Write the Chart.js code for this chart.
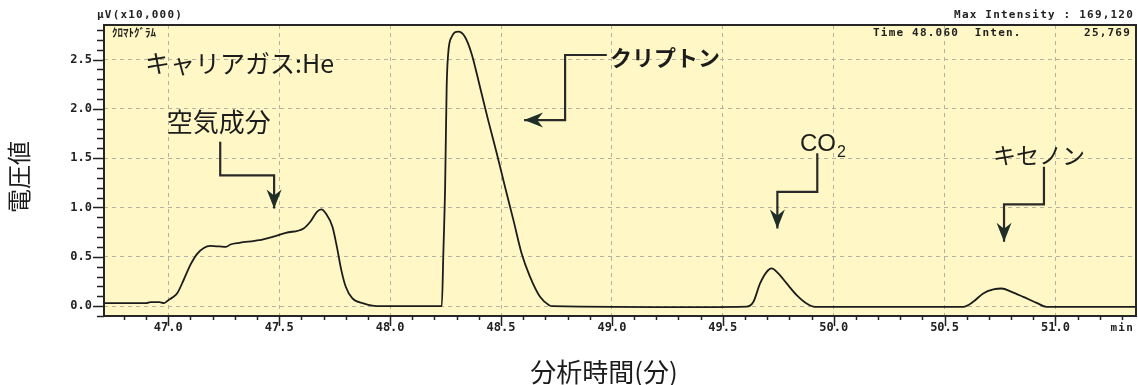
<!DOCTYPE html>
<html>
<head>
<meta charset="utf-8">
<script src="https://cdn.jsdelivr.net/npm/chart.js@4"></script>
<style>
  html, body { margin: 0; padding: 0; background: #fff; }
</style>
</head>
<body>
<canvas id="chromatogram" width="1138" height="385"></canvas>
<script>
// ---- data (time in min, signal in µV x10,000) ----
const timeMin = [
  46.71, 46.90, 46.92, 46.96, 46.98, 47.00, 47.02, 47.04, 47.07, 47.10,
  47.13, 47.16, 47.19, 47.23, 47.26, 47.28, 47.32, 47.41, 47.47, 47.53,
  47.61, 47.64, 47.67, 47.69, 47.71, 47.74, 47.76, 47.78, 47.80, 47.83,
  47.88, 47.94, 48.230, 48.233, 48.240, 48.248, 48.255, 48.262, 48.278, 48.307,
  48.337, 48.367, 48.405, 48.442, 48.481, 48.518, 48.556, 48.593, 48.631, 48.676,
  48.717, 48.732, 49.40, 49.608, 49.638, 49.668, 49.698, 49.720, 49.750, 49.788,
  49.833, 49.878, 49.916, 50.584, 50.629, 50.674, 50.720, 50.757, 50.802, 50.855,
  50.915, 50.960, 51.363
];
const signal = [
  0.03, 0.03, 0.04, 0.04, 0.03, 0.06, 0.09, 0.13, 0.27, 0.42,
  0.53, 0.59, 0.61, 0.605, 0.60, 0.625, 0.642, 0.669, 0.703, 0.743,
  0.788, 0.855, 0.956, 0.981, 0.940, 0.804, 0.601, 0.365, 0.196, 0.078,
  0.027, 0.0, 0.0, 0.0, 0.534, 1.21, 2.224, 2.562, 2.731, 2.782,
  2.731, 2.562, 2.224, 1.886, 1.548, 1.21, 0.872, 0.534, 0.297, 0.095,
  0.01, 0.0, -0.01, -0.005, 0.044, 0.23, 0.348, 0.382, 0.332, 0.23,
  0.112, 0.027, -0.007, -0.007, 0.044, 0.129, 0.169, 0.179, 0.145, 0.094,
  0.033, -0.007, -0.007
];
const xMajorTicks = [47.0, 47.5, 48.0, 48.5, 49.0, 49.5, 50.0, 50.5, 51.0];
const yMajorTicks = [0.0, 0.5, 1.0, 1.5, 2.0, 2.5];

const MONO = '"DejaVu Sans Mono", monospace';
const JP   = '"Noto Sans CJK JP", sans-serif';
const INK  = '#1c1c1c';

// peak annotations, anchored in data units (min, value)
const notes = [
  { text: "キャリアガス:He", t: 46.895, v: 2.46,  font: `25px ${JP}` },
  { text: "空気成分",        t: 46.993, v: 1.87,  font: `26px ${JP}` },
  { text: "クリプトン",      t: 48.991, v: 2.52,  font: `bold 22px ${JP}` },
  { text: "キセノン",        t: 50.718, v: 1.53,  font: `23px ${JP}` },
];
const arrows = [
  [[47.234, 1.666], [47.234, 1.326], [47.477, 1.326], [47.477, 0.991]],
  [[48.977, 2.546], [48.789, 2.546], [48.789, 1.886], [48.604, 1.886]],
  [[49.926, 1.549], [49.926, 1.159], [49.746, 1.159], [49.746, 0.788]],
  [[50.948, 1.413], [50.948, 1.031], [50.768, 1.031], [50.768, 0.652]],
];

function drawArrow(ctx, pts) {
  ctx.strokeStyle = "#2a2a2a";
  ctx.lineWidth = 2.2;
  ctx.beginPath();
  ctx.moveTo(pts[0][0], pts[0][1]);
  for (let i = 1; i < pts.length; i++) ctx.lineTo(pts[i][0], pts[i][1]);
  ctx.stroke();
  const [tx, ty] = pts[pts.length - 1];
  const [px, py] = pts[pts.length - 2];
  ctx.save();
  ctx.translate(tx, ty);
  ctx.rotate(Math.atan2(ty - py, tx - px));
  ctx.fillStyle = "#1f2e27";
  ctx.beginPath();
  ctx.moveTo(0, 0);
  ctx.lineTo(-19, -7.5);
  ctx.lineTo(-13, 0);
  ctx.lineTo(-19, 7.5);
  ctx.closePath();
  ctx.fill();
  ctx.restore();
}

const decorations = {
  id: "decorations",
  beforeDraw(chart) {
    const { ctx, chartArea: a } = chart;
    ctx.save();
    ctx.fillStyle = "#fff8c6";
    ctx.fillRect(a.left, a.top, a.right - a.left, a.bottom - a.top);
    ctx.restore();
  },
  afterDraw(chart) {
    const { ctx, chartArea: a, scales: { x, y } } = chart;
    ctx.save();

    // frame
    ctx.strokeStyle = "#262626";
    ctx.lineWidth = 2;
    ctx.strokeRect(a.left, a.top, a.right - a.left, a.bottom - a.top);

    // tick marks (minor every 0.1)
    ctx.lineWidth = 1.5;
    ctx.strokeStyle = "#222";
    ctx.beginPath();
    for (let i = Math.ceil(x.min * 10); i <= Math.floor(x.max * 10); i++) {
      const px = Math.round(x.getPixelForValue(i / 10)) + 0.5;
      const len = i % 5 === 0 ? 10 : 4;
      ctx.moveTo(px, a.bottom);
      ctx.lineTo(px, a.bottom + len);
    }
    for (let i = Math.ceil(y.min * 10); i <= Math.floor(y.max * 10); i++) {
      const py = Math.round(y.getPixelForValue(i / 10)) + 0.5;
      const len = i % 5 === 0 ? 11 : 7;
      ctx.moveTo(a.left - len, py);
      ctx.lineTo(a.left, py);
    }
    ctx.stroke();

    // instrument header texts
    ctx.fillStyle = "#222";
    ctx.textBaseline = "middle";
    ctx.font = `bold 11px ${MONO}`;
    ctx.letterSpacing = "1.2px";
    ctx.textAlign = "left";
    ctx.fillText("\u03bcV(x10,000)", 97, 15);
    ctx.fillText("Time 48.060  Inten.", 873, 33);
    ctx.textAlign = "right";
    ctx.fillText("Max Intensity : 169,120", 1134, 15);
    ctx.fillText("25,769", 1131, 33);
    ctx.fillText("min", 1134, 328);
    ctx.letterSpacing = "0px";
    ctx.textAlign = "left";
    ctx.font = `bold 11px ${JP}`;
    ctx.fillText("ｸﾛﾏﾄｸﾞﾗﾑ", 112, 33);

    // peak labels
    ctx.fillStyle = INK;
    for (const n of notes) {
      ctx.font = n.font;
      ctx.fillText(n.text, x.getPixelForValue(n.t), y.getPixelForValue(n.v));
    }
    // CO2 with subscript
    const cx = x.getPixelForValue(49.848), cy = y.getPixelForValue(1.643);
    ctx.font = `24px "Liberation Sans", Arial, sans-serif`;
    ctx.fillText("CO", cx, cy);
    const w = ctx.measureText("CO").width;
    ctx.font = `16px "Liberation Sans", Arial, sans-serif`;
    ctx.fillText("2", cx + w + 1, cy + 9);

    for (const path of arrows) {
      drawArrow(ctx, path.map(([t, v]) => [x.getPixelForValue(t), y.getPixelForValue(v)]));
    }

    // axis titles
    ctx.fillStyle = INK;
    ctx.textAlign = "center";
    ctx.font = `26px ${JP}`;
    ctx.fillText("分析時間(分)", 604, 372);
    ctx.translate(19, 177);
    ctx.rotate(-Math.PI / 2);
    ctx.font = `24px ${JP}`;
    ctx.fillText("電圧値", 0, 0);

    ctx.restore();
  }
};

const tickFont = { family: MONO, size: 12, weight: "bold" };

new Chart(document.getElementById("chromatogram"), {
  type: "line",
  data: {
    datasets: [{
      data: timeMin.map((t, i) => ({ x: t, y: signal[i] })),
      borderColor: INK,
      borderWidth: 1.8,
      pointRadius: 0,
      fill: false,
      cubicInterpolationMode: "monotone",
    }],
  },
  options: {
    responsive: false,
    animation: false,
    events: [],
    layout: { padding: { top: 25, right: 2, left: 0, bottom: 0 } },
    plugins: { legend: { display: false }, tooltip: { enabled: false } },
    scales: {
      x: {
        type: "linear",
        min: 46.71,
        max: 51.363,
        afterBuildTicks: s => { s.ticks = xMajorTicks.map(value => ({ value })); },
        afterFit: s => { s.height = 69; },
        ticks: {
          callback: v => Number(v).toFixed(1),
          font: tickFont, color: "#222", padding: 5,
          autoSkip: false, maxRotation: 0,
        },
        grid: { color: "#b4b2a2", lineWidth: 1, drawTicks: false },
        border: { display: false, dash: [4, 4] },
      },
      y: {
        min: -0.1,
        max: 2.85,
        afterBuildTicks: s => { s.ticks = yMajorTicks.map(value => ({ value })); },
        afterFit: s => { s.width = 104; },
        ticks: {
          callback: v => Number(v).toFixed(1),
          font: tickFont, color: "#222", padding: 12,
        },
        grid: { color: "#b4b2a2", lineWidth: 1, drawTicks: false },
        border: { display: false, dash: [4, 4] },
      },
    },
  },
  plugins: [decorations],
});
</script>
</body>
</html>
